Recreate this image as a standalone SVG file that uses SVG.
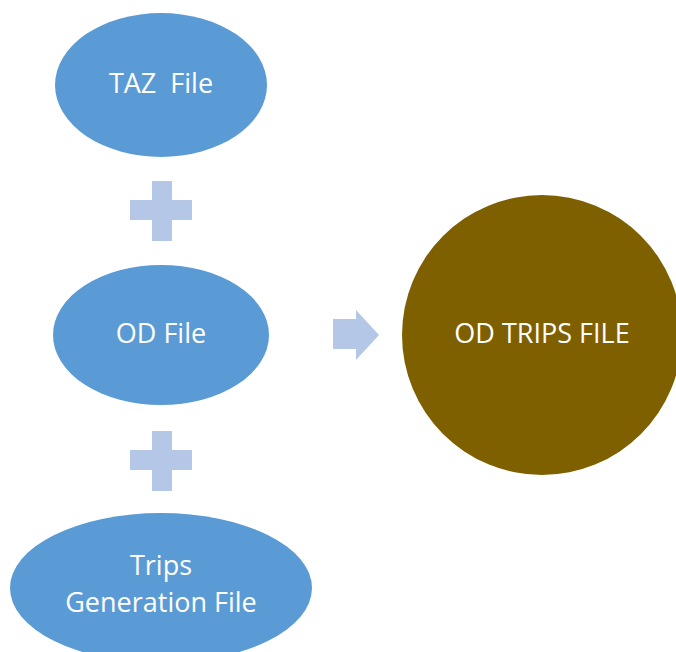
<svg xmlns="http://www.w3.org/2000/svg" width="676" height="652" viewBox="0 0 676 652">
<style>
.blue{fill:#5B9BD5}
.op{fill:#B4C7E7}
.lbl{fill:#FFFFFF;font-family:"Open Sans","Noto Sans",sans-serif;font-size:27px;text-anchor:middle}
</style>
<rect width="676" height="652" fill="#FFFFFF"/>
<g id="taz">
<ellipse class="blue" cx="161" cy="85" rx="106" ry="72"/>
<text class="lbl" x="161" y="93" xml:space="preserve">TAZ  File</text>
</g>
<g id="od">
<ellipse class="blue" cx="161" cy="335" rx="108" ry="70"/>
<text class="lbl" x="161" y="343">OD File</text>
</g>
<g id="trips">
<ellipse class="blue" cx="161" cy="588" rx="151" ry="75"/>
<text class="lbl" x="161" y="575">Trips</text>
<text class="lbl" x="161" y="612">Generation File</text>
</g>
<g id="odtrips">
<circle cx="542" cy="335" r="140" fill="#7F6000"/>
<text class="lbl" x="542" y="343">OD TRIPS FILE</text>
</g>
<g id="connectors">
<path class="op" d="M152,181 H172 V200 H192 V220 H172 V241 H152 V220 H130 V200 H152 Z"/>
<path class="op" d="M152,431 H172 V450 H192 V470 H172 V491 H152 V470 H130 V450 H152 Z"/>
<path class="op" d="M333,319 H356 V310 L379,335 L356,360 V349 H333 Z"/>
</g>
</svg>
